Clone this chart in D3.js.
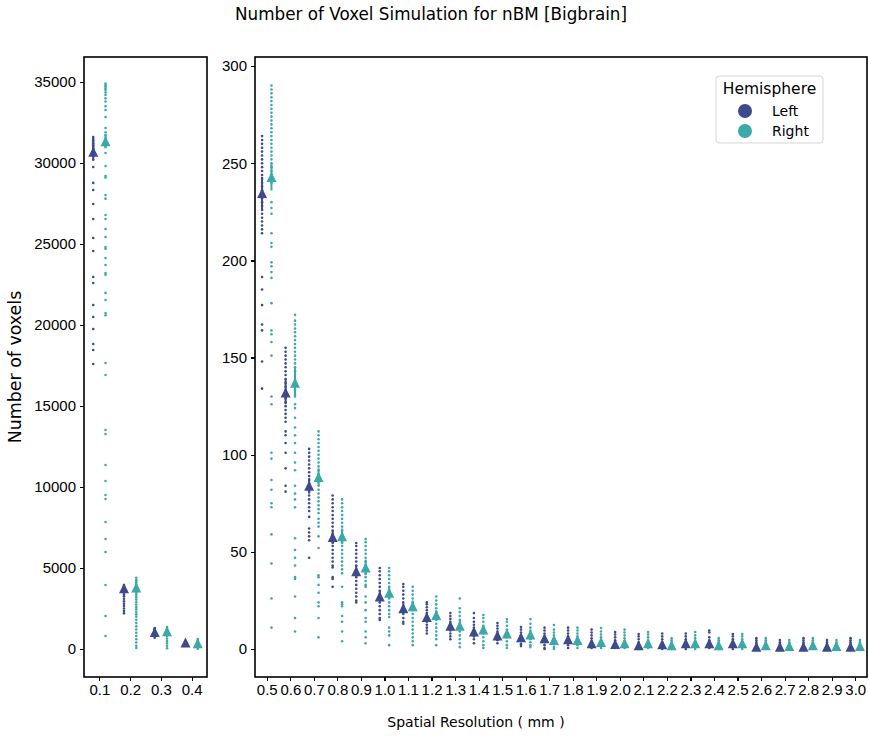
<!DOCTYPE html>
<meta charset="utf-8" />
<style>
  body { margin: 0; background: #fff; font-family: "DejaVu Sans", sans-serif; }
  .axis path, .axis line { stroke: #000; stroke-width: 1.2; shape-rendering: crispEdges; }
  .axis text { font-size: 15px; fill: #000; }
</style>
<body>
<script src="https://d3js.org/d3.v7.min.js"></script>
<script>
// spatial resolutions (mm), first four go in the small panel
var resolutions = ["0.1","0.2","0.3","0.4","0.5","0.6","0.7","0.8","0.9","1.0","1.1","1.2","1.3","1.4","1.5",
  "1.6","1.7","1.8","1.9","2.0","2.1","2.2","2.3","2.4","2.5","2.6","2.7","2.8","2.9","3.0"];
var hemispheres = ["Left", "Right"];
var colors = ["#3e4a8b", "#3aa9a8"];

// mean and confidence interval per resolution
var leftMean = [30700, 3750, 1050, 400, 234.7, 132, 84, 57.6, 40, 27, 21, 16.5, 12, 9, 7, 6, 5.5, 5, 3, 2.6, 2, 2.5, 3, 3, 3, 1.2, 1.2, 1.2, 1.2, 1.2];
var leftLow = [30200, 3550, 900, 330, 226, 126, 80, 54, 37, 24.5, 19, 15, 10.5, 7.5, 6, 5, 4.5, 4, 2.4, 2, 1.5, 2, 2.3, 2.3, 2.3, 0.8, 0.8, 0.8, 0.8, 0.8];
var leftHigh = [31200, 3950, 1250, 470, 243, 139, 88, 61, 43, 30, 23.5, 18.5, 13.5, 10.5, 8.5, 7, 6.5, 6, 3.8, 3.3, 2.6, 3.2, 3.7, 3.8, 3.7, 1.7, 1.7, 1.7, 1.7, 1.7];
var rightMean = [31350, 3800, 1100, 350, 243, 137, 88.5, 58, 42, 29, 22, 17.5, 12, 10, 8, 7.5, 4.6, 4.6, 3.6, 3, 3, 2, 3, 2, 3, 2, 1.5, 2, 1.5, 1.5];
var rightLow = [30900, 3400, 900, 250, 236, 130, 84, 54, 38, 26, 19.5, 15.5, 10, 8, 6.5, 6, 3.8, 3.8, 2.8, 2.3, 2.3, 1.5, 2.3, 1.5, 2.3, 1.5, 1, 1.5, 1, 1];
var rightHigh = [31800, 4300, 1350, 450, 250, 145, 93, 62, 46, 32, 25, 20, 14.5, 12, 9.5, 9, 5.6, 5.6, 4.4, 3.8, 3.8, 2.6, 3.7, 2.6, 3.7, 2.6, 2, 2.6, 2, 2];

// individual simulations (strip points) per resolution
var leftPoints = [
  [31600, 31500, 31400, 31300, 31200, 31100, 31000, 30900, 30800, 30600, 30400, 30200, 29750, 28770, 28330, 27470, 26540, 25370, 24570, 22960, 22590, 21230, 20490, 19750, 18830, 18460, 17590],
  [3950, 3880, 3800, 3720, 3650, 3550, 3450, 3350, 3250, 3100, 2950, 2800, 2650, 2500, 2350, 2200],
  [1300, 1250, 1200, 1100, 1000, 950, 900, 800, 700],
  [500, 450, 400, 380, 350, 300],
  [264, 262, 260, 258, 256, 254, 252, 250, 248, 246, 244, 242, 240, 238, 236, 234, 232, 230, 228, 226, 224, 222, 220, 218, 216, 214, 191.5, 185, 177, 167, 164, 148, 134],
  [155, 153, 151, 149, 147, 145, 143, 141, 139, 137, 135, 133, 131, 129, 127, 125, 123, 121, 119, 117, 112, 110, 106, 101, 93, 84, 81],
  [103, 101, 99, 97, 95, 93, 91, 89, 87, 85, 83, 81, 79, 77, 75, 73, 71, 68, 62, 60, 58, 56, 47],
  [79, 77, 75, 73, 71, 69, 67, 65, 63, 61, 59, 57, 55, 53, 51, 49, 47, 45, 43, 42, 37, 36, 32],
  [54.6, 53, 51, 49, 47, 45, 43, 41, 39, 37, 35, 33, 31, 29, 27, 25, 24],
  [41.7, 40, 38, 36, 34, 32, 30, 28, 26, 24, 22, 20, 18, 16, 15],
  [33.5, 32, 30, 28, 26, 24, 22, 20, 18, 16, 14, 13],
  [24, 23, 21.5, 20, 18.5, 17, 15.5, 14, 12.5, 11, 9.5, 8],
  [18.5, 17, 15.5, 14, 12.5, 11, 9.5, 8, 6.5, 5],
  [18.5, 16, 14, 12.5, 11, 9.5, 8, 6.5, 5, 3],
  [13.4, 12, 10.5, 9, 7.5, 6, 4.5, 3],
  [11.3, 10, 8.5, 7, 5.5, 4, 2.5, 1.5],
  [11, 9.5, 8, 6.5, 5, 3.5, 2, 0.5, 0],
  [11, 9.5, 8, 6.5, 5, 3.5, 2, 0.5],
  [10, 8.5, 7, 5.5, 4, 2.5, 1, 0.5],
  [8.7, 7.5, 6, 4.5, 3, 1.5, 0.5],
  [7.7, 6.5, 5, 3.5, 2, 1, 0],
  [8, 6.5, 5, 3.5, 2, 1, 0],
  [8, 6.5, 5, 3.5, 2, 1, 0],
  [9.5, 8.5, 6, 4.5, 3, 1.5, 0.5],
  [7.7, 6.5, 5, 3.5, 2, 1, 0],
  [5.6, 4.5, 3.5, 2.5, 1.5, 0.5, 0],
  [4.6, 3.5, 2.5, 1.5, 0.5, 0],
  [5.6, 4.5, 3.5, 2.5, 1.5, 0.5, 0],
  [4.6, 3.5, 2.5, 1.5, 0.5, 0],
  [5.6, 4.5, 3.5, 2.5, 1.5, 0.5, 0]
];
var rightPoints = [
  [34900, 34800, 34700, 34600, 34500, 34350, 34200, 34000, 33800, 33500, 33270, 32840, 32160, 31900, 31700, 31500, 31200, 31000, 30620, 29810, 29200, 29100, 28020, 27800, 26790, 26540, 25930, 25430, 24810, 24700, 24140, 23700, 23210, 23100, 21980, 21540, 20740, 20600, 17650, 16910, 13520, 13270, 11360, 10370, 9510, 9260, 7840, 6790, 5990, 3950, 2040, 800],
  [4400, 4250, 4100, 3950, 3800, 3650, 3500, 3350, 3200, 3050, 2900, 2750, 2600, 2450, 2300, 2150, 2000, 1800, 1600, 1400, 1200, 1000, 800, 600, 400, 200, 60],
  [1360, 1300, 1200, 1100, 1000, 900, 800, 650, 500, 350, 200, 50],
  [620, 550, 480, 400, 320, 250, 180, 100, 20],
  [290, 288, 286, 284, 282, 280, 278, 276, 274, 272, 270, 268, 266, 264, 262, 260, 258, 256, 254, 252, 250, 248, 246, 244, 242, 240, 230, 227, 224, 214, 209, 207, 199, 197, 194, 191, 178, 164, 162, 158, 151, 130, 126, 101, 98, 87, 82, 75, 73, 59, 44, 26, 11],
  [172, 169, 167, 165, 163, 161, 159, 157, 155, 153, 151, 149, 147, 145, 143, 141, 139, 137, 135, 133, 131, 130, 126, 124, 119, 114, 110, 106, 101, 96, 92, 84, 80, 77, 73, 57, 51, 47, 43, 37, 36, 27, 16, 9],
  [112, 110, 108, 106, 104, 102, 100, 98, 96, 94, 92, 90, 88, 86, 84, 82, 80, 78, 76, 74, 72, 70, 67, 65, 63, 58, 52, 38, 37, 33, 29, 24, 22, 16, 6],
  [77, 75, 73, 71, 69, 67, 65, 63, 61, 59, 57, 55, 53, 51, 49, 47, 45, 43, 41, 39, 32, 24, 23, 22, 17, 14, 9, 4],
  [56.6, 55, 53, 51, 49, 47, 45, 43, 41, 39, 37, 35, 33, 32, 27, 24, 20, 16, 14, 9, 6, 3],
  [41.7, 40, 38, 36, 34, 32, 30, 28, 26, 24, 22, 20, 18, 16.5, 11, 9, 7, 2],
  [32, 30, 28, 26, 24, 22, 20, 18, 16, 14, 12, 10, 8, 6, 4, 2],
  [27, 25, 23, 21, 19, 17, 15, 13, 11, 9, 7, 5, 2],
  [26, 21, 19, 17, 15, 13, 11, 9, 7, 5, 3, 1],
  [17.5, 16, 14, 12, 10, 8, 6, 4, 2, 0.5],
  [15.4, 14, 12, 10, 8, 6, 4, 2, 0.5],
  [15.4, 13, 11, 9.5, 8, 6.5, 5, 3.5, 2, 1],
  [12.4, 10, 8.5, 7, 5.5, 4, 2.5, 1, 0],
  [11, 9.5, 8, 6.5, 5, 3.5, 2, 0.5],
  [10.8, 9, 7.5, 6, 4.5, 3, 1.5, 0.5],
  [10, 8.5, 7, 5.5, 4, 2.5, 1, 0.5],
  [8.7, 7.5, 6, 4.5, 3, 1.5, 0.5],
  [5.5, 4.5, 3.5, 2.5, 1.5, 0.5, 0],
  [8.7, 7, 5.5, 4, 2.5, 1, 0],
  [5.6, 4.5, 3.5, 2.5, 1.5, 0.5, 0],
  [7.7, 6.5, 5, 3.5, 2, 1, 0],
  [5.6, 4.5, 3.5, 2.5, 1.5, 0.5, 0],
  [4.6, 3.5, 2.5, 1.5, 0.5, 0],
  [5.6, 4.5, 3.5, 2.5, 1.5, 0.5, 0],
  [4.6, 3.5, 2.5, 1.5, 0.5, 0],
  [4.6, 3.5, 2.5, 1.5, 0.5, 0]
];
var leftTicks = [0, 5000, 10000, 15000, 20000, 25000, 30000, 35000];
var rightTicks = [0, 50, 100, 150, 200, 250, 300];

var W = 869, H = 736, plotTop = 57, plotBottom = 677;

var svg = d3.select("body").append("svg")
  .attr("width", W).attr("height", H);

// the two panels
var panels = [
  { x0: 84, x1: 207, cats: resolutions.slice(0, 4), offset: 0, domain: [-1728, 36543], ticks: leftTicks },
  { x0: 255, x1: 867, cats: resolutions.slice(4), offset: 4, domain: [-14.4, 304.7], ticks: rightTicks }
];

var tri = "M0,-5L-5,5L5,5Z";

panels.forEach(function (p) {
  var x = d3.scalePoint().domain(p.cats).range([p.x0, p.x1]).padding(0.5);
  var y = d3.scaleLinear().domain(p.domain).range([plotBottom, plotTop]);
  var dodge = x.step() * 0.2;
  var g = svg.append("g");

  var series = [
    { mean: leftMean, lo: leftLow, hi: leftHigh, pts: leftPoints, color: colors[0], dx: -dodge },
    { mean: rightMean, lo: rightLow, hi: rightHigh, pts: rightPoints, color: colors[1], dx: dodge }
  ];

  // strip points
  series.forEach(function (s) {
    p.cats.forEach(function (c, j) {
      var i = j + p.offset;
      g.selectAll(null).data(s.pts[i]).enter().append("circle")
        .attr("cx", x(c) + s.dx)
        .attr("cy", function (d) { return y(d); })
        .attr("r", 1.3)
        .attr("fill", s.color);
    });
  });

  // error bars + mean markers
  series.forEach(function (s) {
    p.cats.forEach(function (c, j) {
      var i = j + p.offset;
      g.append("line")
        .attr("x1", x(c) + s.dx).attr("x2", x(c) + s.dx)
        .attr("y1", y(s.lo[i])).attr("y2", y(s.hi[i]))
        .attr("stroke", s.color).attr("stroke-width", 2);
      g.append("path")
        .attr("d", tri)
        .attr("transform", "translate(" + (x(c) + s.dx) + "," + y(s.mean[i]) + ")")
        .attr("fill", s.color);
    });
  });

  g.append("g").attr("class", "axis")
    .attr("transform", "translate(0," + plotBottom + ")")
    .call(d3.axisBottom(x).tickSize(4).tickPadding(3))
    .call(function (a) { a.select(".domain").remove(); });

  g.append("g").attr("class", "axis")
    .attr("transform", "translate(" + p.x0 + ",0)")
    .call(d3.axisLeft(y).tickValues(p.ticks).tickFormat(d3.format("d")).tickSize(4).tickPadding(4))
    .call(function (a) { a.select(".domain").remove(); });

  g.append("rect")
    .attr("x", p.x0).attr("y", plotTop)
    .attr("width", p.x1 - p.x0).attr("height", plotBottom - plotTop)
    .attr("fill", "none").attr("stroke", "#000").attr("stroke-width", 1.6);
});

// legend
var lg = svg.append("g").attr("transform", "translate(716,76)");
lg.append("rect").attr("width", 107).attr("height", 67).attr("rx", 3)
  .attr("fill", "#fff").attr("stroke", "#d6d6d6").attr("stroke-width", 1);
lg.append("text").attr("x", 53.5).attr("y", 18).attr("text-anchor", "middle")
  .style("font-size", "15.5px").text("Hemisphere");
hemispheres.forEach(function (h, i) {
  lg.append("circle").attr("cx", 29).attr("cy", 35 + i * 20).attr("r", 7).attr("fill", colors[i]);
  lg.append("text").attr("x", 56).attr("y", 40 + i * 20)
    .style("font-size", "14px").text(h);
});

// titles
svg.append("text").attr("x", 431).attr("y", 20).attr("text-anchor", "middle")
  .style("font-size", "16.8px").text("Number of Voxel Simulation for nBM [Bigbrain]");
svg.append("text").attr("x", 476).attr("y", 727).attr("text-anchor", "middle")
  .style("font-size", "14px").text("Spatial Resolution ( mm )");
svg.append("text").attr("transform", "translate(21,367) rotate(-90)")
  .attr("text-anchor", "middle").style("font-size", "17.4px").text("Number of voxels");
</script>
</body>
